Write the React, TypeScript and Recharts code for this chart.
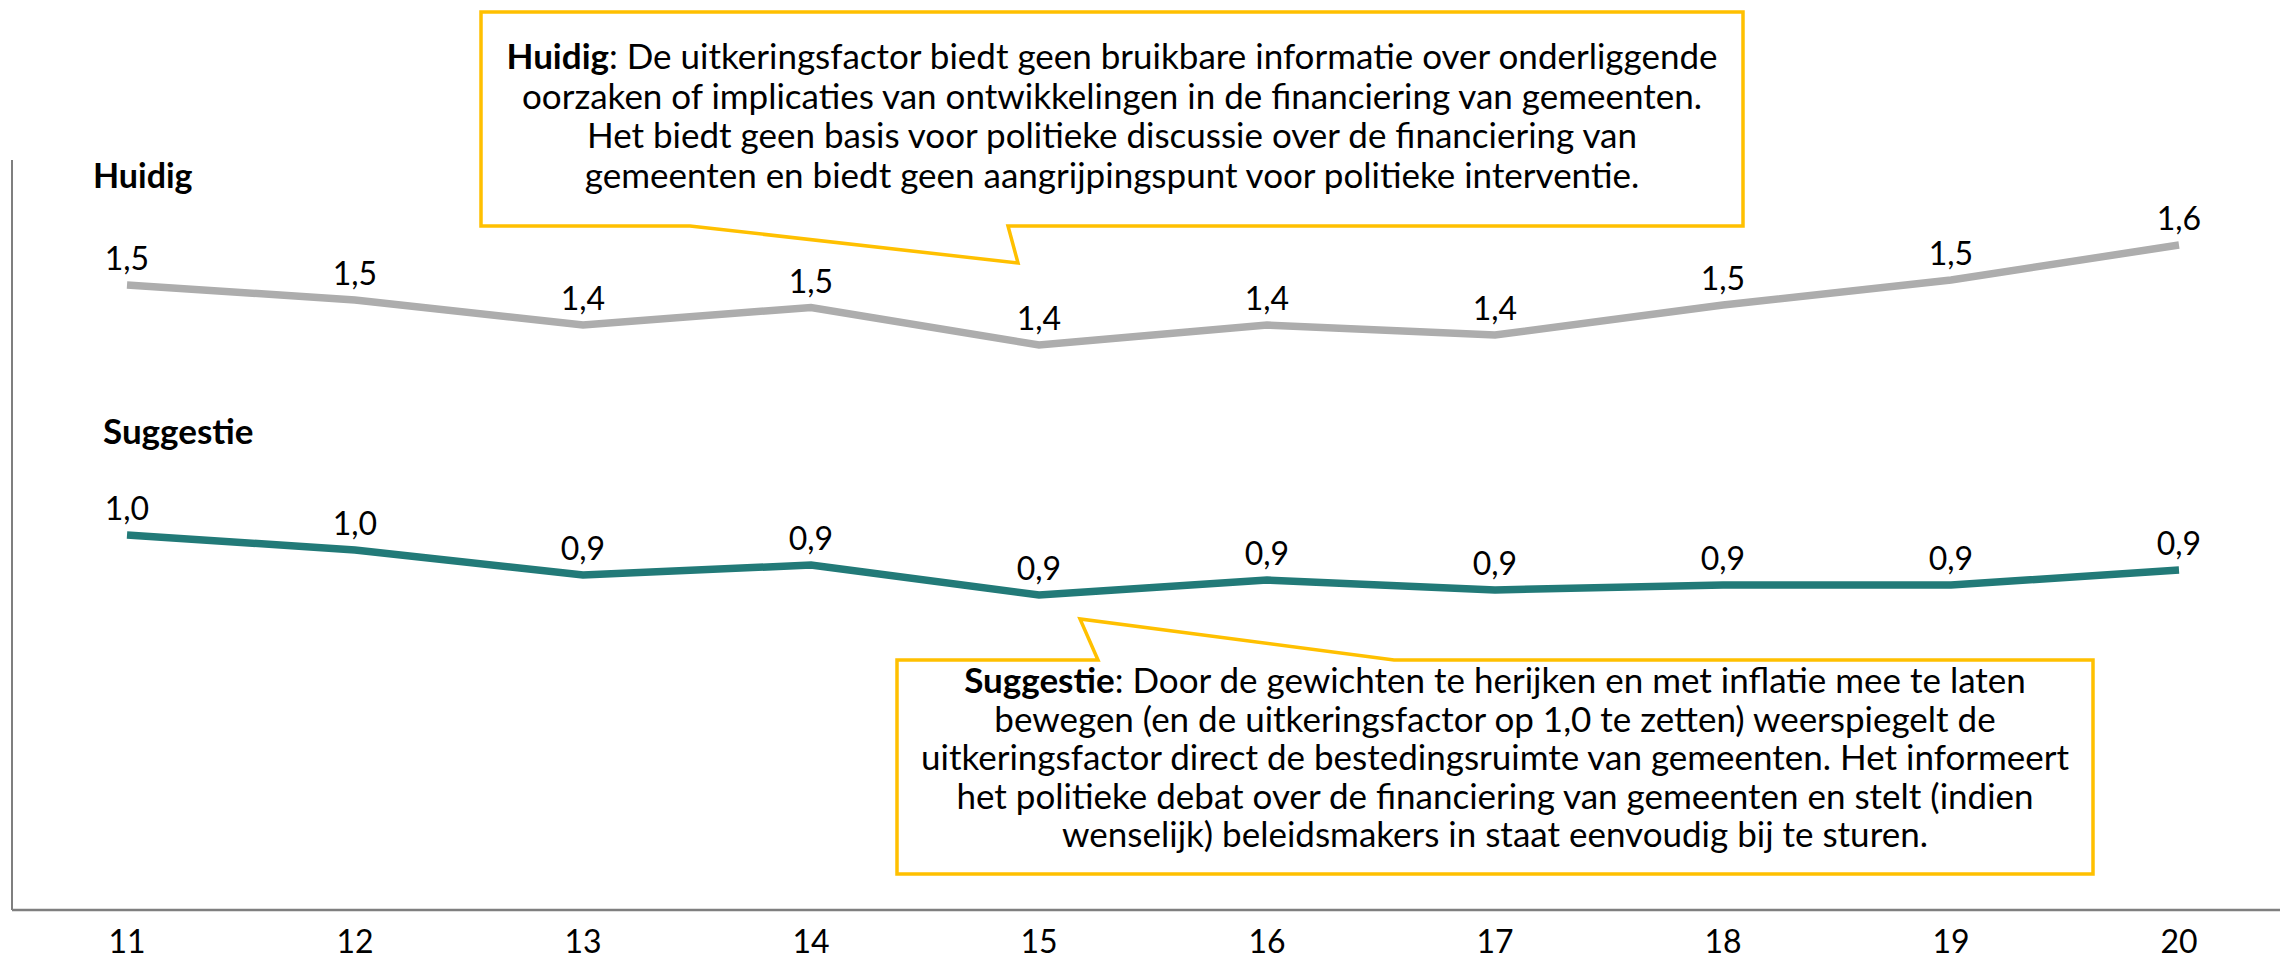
import { LineChart, Line, XAxis, YAxis, LabelList } from 'recharts';

const years = ['11', '12', '13', '14', '15', '16', '17', '18', '19', '20'];
const huidig = [1.5, 1.47, 1.42, 1.455, 1.38, 1.42, 1.4, 1.46, 1.51, 1.58];
const suggestie = [1.0, 0.97, 0.92, 0.94, 0.88, 0.91, 0.89, 0.9, 0.9, 0.93];

const huidigNote = [
  'De uitkeringsfactor biedt geen bruikbare informatie over onderliggende',
  'oorzaken of implicaties van ontwikkelingen in de financiering van gemeenten.',
  'Het biedt geen basis voor politieke discussie over de financiering van',
  'gemeenten en biedt geen aangrijpingspunt voor politieke interventie.',
];
const suggestieNote = [
  'Door de gewichten te herijken en met inflatie mee te laten',
  'bewegen (en de uitkeringsfactor op 1,0 te zetten) weerspiegelt de',
  'uitkeringsfactor direct de bestedingsruimte van gemeenten. Het informeert',
  'het politieke debat over de financiering van gemeenten en stelt (indien',
  'wenselijk) beleidsmakers in staat eenvoudig bij te sturen.',
];

const data = years.map((year, i) => ({ year, huidig: huidig[i], suggestie: suggestie[i] }));

const FONT = 'Lato, "Open Sans", sans-serif';
const fmt = (v: any) => (Math.round(Number(v) * 10 + 1e-9) / 10).toFixed(1).replace('.', ',');

export default function App() {
  return (
    <div style={{ position: 'absolute', left: 0, top: 0, width: 2280, height: 960, background: '#fff' }}>
      <LineChart width={2280} height={960} data={data} margin={{ top: 160, right: 0, bottom: 20, left: 11 }}>
        <XAxis
          dataKey="year"
          height={30}
          interval={0}
          padding={{ left: 115, right: 101 }}
          tickLine={false}
          tickMargin={14}
          axisLine={{ stroke: '#7f7f7f', strokeWidth: 2.5 }}
          tick={{ fill: '#000', fontSize: 32, fontFamily: FONT }}
        />
        <YAxis
          width={1}
          domain={[0.25, 1.75]}
          tick={false}
          tickLine={false}
          axisLine={{ stroke: '#7f7f7f', strokeWidth: 2 }}
        />
        <Line
          dataKey="huidig"
          stroke="#adadad"
          strokeWidth={7.5}
          dot={false}
          activeDot={false}
          isAnimationActive={false}
        >
          <LabelList
            dataKey="huidig"
            position="top"
            offset={15}
            formatter={fmt}
            style={{ fill: '#000', fontSize: 32, fontFamily: FONT }}
          />
        </Line>
        <Line
          dataKey="suggestie"
          stroke="#227a78"
          strokeWidth={7.5}
          dot={false}
          activeDot={false}
          isAnimationActive={false}
        >
          <LabelList
            dataKey="suggestie"
            position="top"
            offset={15}
            formatter={fmt}
            style={{ fill: '#000', fontSize: 32, fontFamily: FONT }}
          />
        </Line>
      </LineChart>

      {/* series titles and callouts */}
      <svg width={2280} height={960} style={{ position: 'absolute', left: 0, top: 0, pointerEvents: 'none' }}>
        <text x={93} y={188} fontFamily={FONT} fontWeight="bold" fontSize={34} fill="#000">Huidig</text>
        <text x={103} y={444} fontFamily={FONT} fontWeight="bold" fontSize={35} fill="#000">Suggestie</text>

        <path
          d="M481,12 H1743 V226 H1008 L1018,263 L690,226 H481 Z"
          fill="#fff"
          stroke="#ffc000"
          strokeWidth={3.5}
        />
        <text fontFamily={FONT} fontSize={35} fill="#000" textAnchor="middle">
          {huidigNote.map((line, i) => (
            <tspan key={i} x={1112} y={69 + i * 39.7}>
              {i === 0 && <tspan fontWeight="bold">Huidig</tspan>}
              {i === 0 ? ': ' + line : line}
            </tspan>
          ))}
        </text>

        <path
          d="M897,660 H1098 L1080,619 L1394,660 H2093 V874 H897 Z"
          fill="#fff"
          stroke="#ffc000"
          strokeWidth={3.5}
        />
        <text fontFamily={FONT} fontSize={35} fill="#000" textAnchor="middle">
          {suggestieNote.map((line, i) => (
            <tspan key={i} x={1495} y={693 + i * 38.5}>
              {i === 0 && <tspan fontWeight="bold">Suggestie</tspan>}
              {i === 0 ? ': ' + line : line}
            </tspan>
          ))}
        </text>
      </svg>
    </div>
  );
}
